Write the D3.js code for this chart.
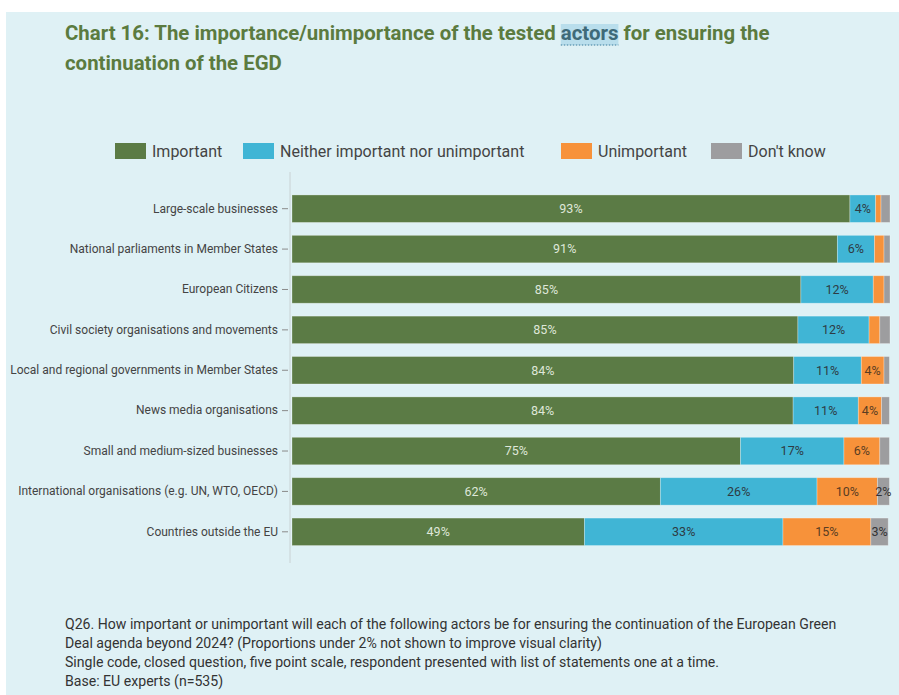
<!DOCTYPE html>
<html lang="en">
<head>
  <meta charset="UTF-8">
  <title>Chart 16</title>
  <script src="https://d3js.org/d3.v7.min.js"></script>
  <style>
    body { margin: 0; background: #fff; font-family: Roboto, "Noto Sans", sans-serif; }
    svg { display: block; }
  </style>
</head>
<body>
  <div id="chart"></div>

  <script>
    // data (percent of respondents)
    const actors = [
      "Large-scale businesses",
      "National parliaments in Member States",
      "European Citizens",
      "Civil society organisations and movements",
      "Local and regional governments in Member States",
      "News media organisations",
      "Small and medium-sized businesses",
      "International organisations (e.g. UN, WTO, OECD)",
      "Countries outside the EU"
    ];
    const important   = [93.3, 91.2, 85.1, 84.6, 83.9, 83.8, 75.0, 61.6, 48.9];
    const neither     = [4.3, 6.2, 12.1, 11.9, 11.3, 10.9, 17.3, 26.2, 33.2];
    const unimportant = [0.9, 1.6, 1.8, 1.8, 3.8, 3.9, 6.0, 10.1, 14.7];
    const dontKnow    = [1.5, 1.0, 1.0, 1.7, 0.9, 1.3, 1.6, 2.0, 2.9];

    const seriesNames = ["Important", "Neither important nor unimportant", "Unimportant", "Don't know"];
    const keys = ["important", "neither", "unimportant", "dontKnow"];
    const colors = ["#5b7b45", "#40b5d5", "#f7923a", "#9d9d9f"];
    const labelColors = ["#dfe7d9", "#2e3b44", "#5a3d22", "#333"];

    const title = [
      "Chart 16: The importance/unimportance of the tested actors for ensuring the",
      "continuation of the EGD"
    ];
    const notes = [
      "Q26. How important or unimportant will each of the following actors be for ensuring the continuation of the European Green",
      "Deal agenda beyond 2024? (Proportions under 2% not shown to improve visual clarity)",
      "Single code, closed question, five point scale, respondent presented with list of statements one at a time.",
      "Base: EU experts (n=535)"
    ];

    const W = 899, H = 695;
    const svg = d3.select("#chart").append("svg")
      .attr("width", W).attr("height", H);

    // panel background
    svg.append("rect")
       .attr("x", 6).attr("y", 12)
       .attr("width", W - 6).attr("height", H - 12)
       .attr("fill", "#dff1f5");

    // title
    const titleText = svg.append("g");
    title.forEach((t, i) => {
      titleText.append("text")
        .attr("x", 65)
        .attr("y", 40 + i * 30)
        .style("font-size", "20.4px")
        .style("font-weight", "bold")
        .attr("fill", "#5b7b3f")
        .text(t);
    });
    // highlight "actors" like in the source
    const t0 = titleText.select("text").node();
    const idx = title[0].indexOf("actors");
    const a = t0.getExtentOfChar(idx), b = t0.getExtentOfChar(idx + 5);
    titleText.insert("rect", "text")
      .attr("x", a.x).attr("y", a.y + 3)
      .attr("width", b.x + b.width - a.x).attr("height", a.height - 3)
      .attr("fill", "#b9deec");
    titleText.append("line")
      .attr("x1", a.x).attr("x2", b.x + b.width)
      .attr("y1", a.y + a.height).attr("y2", a.y + a.height)
      .attr("stroke", "#6a9fb8").attr("stroke-width", 1.5)
      .attr("stroke-dasharray", "1.5,1.5");
    d3.select(t0).text(null);
    d3.select(t0).append("tspan").text(title[0].slice(0, idx));
    d3.select(t0).append("tspan").attr("fill", "#3f6a78").text("actors");
    d3.select(t0).append("tspan").text(title[0].slice(idx + 6));

    // legend
    const legendX = [115, 243, 561, 711];
    const legend = svg.append("g").attr("transform", "translate(0,143)");
    seriesNames.forEach((s, i) => {
      legend.append("rect")
        .attr("x", legendX[i]).attr("y", 0)
        .attr("width", 31).attr("height", 16)
        .attr("fill", colors[i]);
      legend.append("text")
        .attr("x", legendX[i] + 37).attr("y", 14)
        .style("font-size", "16px")
        .attr("fill", "#444")
        .text(s);
    });

    // scales
    const y = d3.scaleBand()
      .domain(actors)
      .range([188.5, 552])
      .paddingInner(0.32)
      .paddingOuter(0.16);

    const x = d3.scaleLinear()
      .domain([0, 100])
      .range([292, 890]);

    const rows = actors.map((name, i) => ({
      name,
      important: important[i],
      neither: neither[i],
      unimportant: unimportant[i],
      dontKnow: dontKnow[i]
    }));
    const stacked = d3.stack().keys(keys)(rows);

    // axis
    const yAxis = svg.append("g")
      .attr("transform", "translate(288,0)")
      .call(d3.axisLeft(y).tickSize(6).tickPadding(4));
    yAxis.select(".domain").remove();
    yAxis.selectAll(".tick line").attr("stroke", "#8a8a8a");
    yAxis.selectAll(".tick text")
      .style("font-size", "12px")
      .style("font-family", "Roboto, sans-serif")
      .attr("fill", "#444");
    svg.append("line")
      .attr("x1", 290).attr("x2", 290)
      .attr("y1", 172).attr("y2", 563)
      .attr("stroke", "#c9d2d4");

    // bars
    const layers = svg.selectAll(".layer")
      .data(stacked)
      .enter()
      .append("g")
      .attr("class", "layer")
      .attr("fill", (d, i) => colors[i]);

    layers.selectAll("rect")
      .data(d => d)
      .enter()
      .append("rect")
      .attr("x", d => x(d[0]))
      .attr("y", d => y(d.data.name))
      .attr("width", d => x(d[1]) - x(d[0]))
      .attr("height", y.bandwidth())
      .attr("stroke", "rgba(255,255,255,0.35)")
      .attr("stroke-width", 0.8);

    layers.each(function(layer, li) {
      d3.select(this).selectAll("text")
        .data(layer.filter(d => d[1] - d[0] >= 2))
        .enter()
        .append("text")
        .attr("x", d => (x(d[0]) + x(d[1])) / 2)
        .attr("y", d => y(d.data.name) + y.bandwidth() / 2)
        .attr("dy", "0.35em")
        .attr("text-anchor", "middle")
        .style("font-size", "12.5px")
        .attr("fill", labelColors[li])
        .text(d => `${Math.round(d[1] - d[0])}%`);
    });

    // footnote
    notes.forEach((t, i) => {
      svg.append("text")
        .attr("x", 65)
        .attr("y", 629 + i * 19)
        .style("font-size", "14.1px")
        .attr("fill", "#333")
        .text(t);
    });
  </script>
</body>
</html>
